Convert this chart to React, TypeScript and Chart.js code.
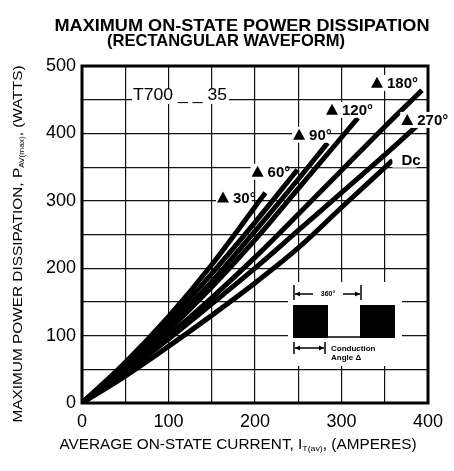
import React, { useEffect, useRef } from "react";
import { Chart, registerables } from "chart.js";

Chart.register(...registerables);

// Data (average current in A, power in W)
const xTicks = [0, 100, 200, 300, 400];
const yTicks = [0, 100, 200, 300, 400, 500];

const i30 = [0, 50, 100, 150, 212];
const p30 = [0, 60, 128, 205, 312];
const i60 = [0, 50, 100, 150, 200, 249];
const p60 = [0, 56, 120, 192, 268, 346];
const i90 = [0, 50, 100, 150, 200, 250, 284];
const p90 = [0, 52, 112, 180, 255, 332, 386];
const i120 = [0, 50, 100, 150, 200, 250, 319];
const p120 = [0, 50, 108, 172, 242, 318, 423];
const i180 = [0, 50, 100, 150, 200, 250, 300, 350, 393];
const p180 = [0, 48, 100, 156, 216, 280, 345, 410, 464];
const i270 = [0, 50, 100, 150, 200, 250, 300, 350, 399];
const p270 = [0, 46, 95, 147, 200, 256, 312, 368, 425];
const iDC = [0, 50, 100, 150, 200, 250, 300, 359];
const pDC = [0, 40, 84, 130, 178, 230, 290, 360];

const curveLabels = ["30°", "60°", "90°", "120°", "180°", "270°", "Dc"];
// label anchor (data coords): triangle position
const labelI = [163, 203, 251, 289, 341, 376, 367];
const labelP = [305, 343, 398, 435, 475, 420, 361];

const series = [
  [i30, p30],
  [i60, p60],
  [i90, p90],
  [i120, p120],
  [i180, p180],
  [i270, p270],
  [iDC, pDC],
];

const FONT = "'Liberation Sans', Arial, sans-serif";

function fitText(ctx: any, text: string, cx: number, cy: number, width: number, font: string) {
  ctx.save();
  ctx.font = font;
  const w = ctx.measureText(text).width;
  ctx.translate(cx, cy);
  ctx.scale(width / w, 1);
  ctx.textAlign = "center";
  ctx.textBaseline = "middle";
  ctx.fillText(text, 0, 0);
  ctx.restore();
}

// draws text with subscript, fitted horizontally to "width", centered at 0 (current transform)
function subText(ctx: any, a: string, sub: string, b: string, width: number, size: number, subSize: number) {
  ctx.font = `${size}px ${FONT}`;
  const w1 = ctx.measureText(a).width;
  const w3 = ctx.measureText(b).width;
  ctx.font = `${subSize}px ${FONT}`;
  const w2 = ctx.measureText(sub).width;
  const total = w1 + w2 + w3;
  ctx.save();
  ctx.scale(width / total, 1);
  const s = -total / 2;
  ctx.textAlign = "left";
  ctx.textBaseline = "middle";
  ctx.font = `${size}px ${FONT}`;
  ctx.fillText(a, s, 0);
  ctx.font = `${subSize}px ${FONT}`;
  ctx.fillText(sub, s + w1, size * 0.3);
  ctx.font = `${size}px ${FONT}`;
  ctx.fillText(b, s + w1 + w2, 0);
  ctx.restore();
}

const annotate = {
  id: "annotate",
  afterDraw(chart: any) {
    const { ctx, scales } = chart;
    const xs = scales.x;
    const ys = scales.y;
    const area = chart.chartArea;
    ctx.save();

    // border
    ctx.strokeStyle = "#000";
    ctx.lineWidth = 3;
    ctx.strokeRect(area.left, area.top, area.right - area.left, area.bottom - area.top);

    // title
    ctx.fillStyle = "#000";
    fitText(ctx, "MAXIMUM ON-STATE POWER DISSIPATION", 242, 26, 375, `bold 17px ${FONT}`);
    fitText(ctx, "(RECTANGULAR WAVEFORM)", 226, 41, 238, `bold 17px ${FONT}`);

    // curve labels with triangles
    ctx.font = `bold 15px ${FONT}`;
    ctx.textAlign = "left";
    ctx.textBaseline = "middle";
    for (let k = 0; k < curveLabels.length; k++) {
      const px = xs.getPixelForValue(labelI[k]);
      const py = ys.getPixelForValue(labelP[k]);
      const txt = curveLabels[k];
      const isDc = txt === "Dc";
      const tw = ctx.measureText(txt).width;
      const startX = isDc ? px + 2 : px + 10;
      ctx.fillStyle = "#fff";
      ctx.fillRect(px - 7, py - 8, startX - px + tw + 3, 16);
      ctx.fillStyle = "#000";
      if (!isDc) {
        ctx.beginPath();
        ctx.moveTo(px, py - 6);
        ctx.lineTo(px + 6, py + 5);
        ctx.lineTo(px - 6, py + 5);
        ctx.closePath();
        ctx.fill();
      }
      ctx.fillText(txt, startX, py + 1);
    }

    // T700 - - 35 label
    ctx.fillStyle = "#fff";
    ctx.fillRect(132, 89, 97, 15);
    ctx.fillStyle = "#000";
    fitText(ctx, "T700 _ _ 35", 180, 96, 94, `16px ${FONT}`);

    // inset waveform
    ctx.fillStyle = "#fff";
    ctx.fillRect(288, 282, 114, 84);
    ctx.fillStyle = "#000";
    ctx.fillRect(293, 305, 35, 33);
    ctx.fillRect(360, 305, 35, 33);
    ctx.lineWidth = 1.5;
    ctx.strokeStyle = "#000";
    ctx.beginPath();
    ctx.moveTo(328, 337);
    ctx.lineTo(360, 337);
    ctx.moveTo(294, 285);
    ctx.lineTo(294, 300);
    ctx.moveTo(361, 285);
    ctx.lineTo(361, 300);
    ctx.moveTo(295, 294);
    ctx.lineTo(313, 294);
    ctx.moveTo(343, 294);
    ctx.lineTo(360, 294);
    ctx.moveTo(294, 342);
    ctx.lineTo(294, 354);
    ctx.moveTo(325, 342);
    ctx.lineTo(325, 354);
    ctx.moveTo(295, 348);
    ctx.lineTo(324, 348);
    ctx.stroke();
    const arrow = (x: number, y: number, dir: number) => {
      ctx.beginPath();
      ctx.moveTo(x, y);
      ctx.lineTo(x + dir * 5, y - 2.5);
      ctx.lineTo(x + dir * 5, y + 2.5);
      ctx.closePath();
      ctx.fill();
    };
    arrow(295, 294, 1);
    arrow(360, 294, -1);
    arrow(295, 348, 1);
    arrow(324, 348, -1);
    ctx.font = `bold 7px ${FONT}`;
    ctx.textAlign = "center";
    ctx.textBaseline = "middle";
    ctx.fillText("360°", 328, 294);
    ctx.textAlign = "left";
    ctx.font = `bold 8px ${FONT}`;
    ctx.fillText("Conduction", 331, 349);
    ctx.fillText("Angle Δ", 331, 358);

    // x axis title
    ctx.save();
    ctx.translate(238, 445);
    subText(ctx, "AVERAGE ON-STATE CURRENT, I", "T(av)", ", (AMPERES)", 357, 14, 8);
    ctx.restore();

    // y axis title
    ctx.save();
    ctx.translate(18, 244);
    ctx.rotate(-Math.PI / 2);
    subText(ctx, "MAXIMUM POWER DISSIPATION, P", "AV(max)", ", (WATTS)", 357, 13, 7);
    ctx.restore();

    ctx.restore();
  },
};

export default function App() {
  const ref = useRef<HTMLCanvasElement | null>(null);
  useEffect(() => {
    if (!ref.current) return;
    const chart = new Chart(ref.current, {
      type: "line",
      data: {
        datasets: series.map(([xs, ps], k) => ({
          label: curveLabels[k],
          data: xs.map((x, j) => ({ x, y: ps[j] })),
          borderColor: "#000",
          borderWidth: 5,
          borderCapStyle: "butt" as const,
          pointRadius: 0,
          cubicInterpolationMode: "monotone" as const,
          fill: false,
        })),
      },
      options: {
        responsive: false,
        animation: false,
        layout: { padding: { left: 0, top: 66, right: 26, bottom: 0 } },
        plugins: {
          legend: { display: false },
          tooltip: { enabled: false },
          title: { display: false },
        },
        scales: {
          x: {
            type: "linear",
            min: 0,
            max: 400,
            afterFit: (s: any) => {
              s.height = 68;
            },
            afterBuildTicks: (s: any) => {
              s.ticks = [0, 50, 100, 150, 200, 250, 300, 350, 400].map((v) => ({ value: v }));
            },
            grid: { color: "#111", lineWidth: 1.2, drawTicks: false },
            border: { display: false },
            ticks: {
              padding: 8,
              color: "#000",
              font: { family: FONT, size: 18 },
              maxRotation: 0,
              autoSkip: false,
              callback: (v: any) => (xTicks.includes(Number(v)) ? String(v) : ""),
            },
          },
          y: {
            type: "linear",
            min: 0,
            max: 500,
            afterFit: (s: any) => {
              s.width = 82;
            },
            afterBuildTicks: (s: any) => {
              s.ticks = [0, 50, 100, 150, 200, 250, 300, 350, 400, 450, 500].map((v) => ({ value: v }));
            },
            grid: { color: "#111", lineWidth: 1.2, drawTicks: false },
            border: { display: false },
            ticks: {
              padding: 6,
              color: "#000",
              font: { family: FONT, size: 18 },
              autoSkip: false,
              callback: (v: any) => (yTicks.includes(Number(v)) ? String(v) : ""),
            },
          },
        },
      },
      plugins: [annotate],
    });
    return () => chart.destroy();
  }, []);
  return (
    <div style={{ position: "fixed", left: 0, top: 0, width: 454, height: 471, background: "#fff" }}>
      <canvas ref={ref} width={454} height={471} style={{ width: 454, height: 471 }} />
    </div>
  );
}
